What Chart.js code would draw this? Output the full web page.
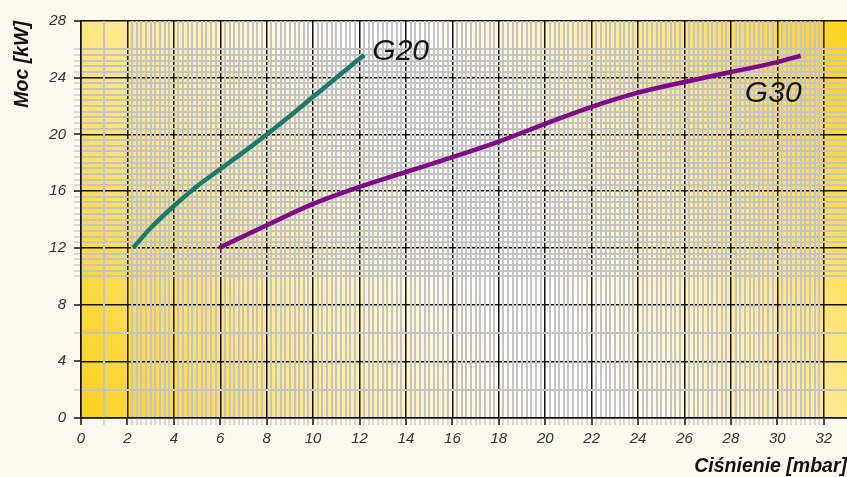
<!DOCTYPE html>
<html><head>
<meta charset="UTF-8">
<title>Moc / Ciśnienie</title>
<style>
  html, body { margin: 0; padding: 0; background: #fdf9ee; }
  #wrap { width: 847px; height: 477px; position: relative; }
</style>
<script src="https://cdn.jsdelivr.net/npm/chart.js"></script>
</head>
<body>
<div id="wrap"><canvas id="chart"></canvas></div>
<script>
// series (pressure in mbar, power in kW)
const g20X = [2.25, 3, 4, 5, 6, 7, 8, 9, 10, 11, 12.2];
const g20Y = [12, 13.4, 14.95, 16.35, 17.55, 18.75, 20, 21.3, 22.65, 24.0, 25.6];
const g30X = [5.95, 8, 10, 12, 14, 16, 18, 20, 22, 24, 26, 28, 30, 31];
const g30Y = [12, 13.6, 15.1, 16.3, 17.35, 18.4, 19.5, 20.75, 21.95, 22.95, 23.7, 24.4, 25.1, 25.55];

const seriesNames = ['G20', 'G30'];
const nameX = [12.55, 28.6];
const nameY = [25.85, 22.9];

const xMajor = [0, 2, 4, 6, 8, 10, 12, 14, 16, 18, 20, 22, 24, 26, 28, 30, 32];
const xLabels = ['0', '2', '4', '6', '8', '10', '12', '14', '16', '18', '20', '22', '24', '26', '28', '30', '32'];
const yMajor = [0, 4, 8, 12, 16, 20, 24, 28];
const yLabels = ['0', '4', '8', '12', '16', '20', '24', '28'];

// fine graph-paper lines
const xMinor = [1];
for (let i = 11; i < 160; i++) if (i % 10 !== 0) xMinor.push(i / 5);
const yMinor = [2, 6];
for (let i = 25; i <= 65; i++) if (i % 10 !== 0) yMinor.push(i * 2 / 5);

const BLACK = '#111111';
const GREY = '#c4c4c4';
const tickFont = { family: '"Liberation Sans", Arial, sans-serif', size: 15, style: 'italic' };
const titleFont = { family: '"Liberation Sans", Arial, sans-serif', size: 19.5, style: 'italic', weight: 'bold' };

function setTicks(list) {
  return scale => { scale.ticks = list.slice().sort((a, b) => a - b).map(v => ({ value: v })); };
}
function isIn(list, v) { return list.some(m => Math.abs(m - v) < 1e-6); }

const paperBg = {
  id: 'paperBg',
  beforeDraw(chart) {
    const { ctx, chartArea: a } = chart;
    ctx.save();
    ctx.fillStyle = '#fdf9ee';
    ctx.fillRect(0, 0, chart.width, chart.height);
    const g = ctx.createLinearGradient(a.left, a.bottom, a.right, a.top);
    g.addColorStop(0, '#fcd11c');
    g.addColorStop(0.48, '#ffffff');
    g.addColorStop(0.55, '#ffffff');
    g.addColorStop(1, '#fdd21e');
    ctx.fillStyle = g;
    ctx.fillRect(a.left, a.top, a.right - a.left, a.bottom - a.top);
    ctx.restore();
  }
};

const seriesNamesPlugin = {
  id: 'seriesNames',
  afterDatasetsDraw(chart) {
    const { ctx, scales: { x, y } } = chart;
    ctx.save();
    ctx.font = 'italic 30px "Liberation Sans", Arial, sans-serif';
    ctx.fillStyle = '#151515';
    ctx.textBaseline = 'middle';
    ctx.textAlign = 'left';
    seriesNames.forEach((t, i) => ctx.fillText(t, x.getPixelForValue(nameX[i]), y.getPixelForValue(nameY[i])));
    ctx.restore();
  }
};

new Chart(document.getElementById('chart'), {
  type: 'line',
  data: {
    datasets: [{
      label: 'G20',
      data: g20X.map((v, i) => ({ x: v, y: g20Y[i] })),
      borderColor: '#1b7b6b',
      borderWidth: 4.5,
      pointRadius: 0,
      cubicInterpolationMode: 'monotone'
    }, {
      label: 'G30',
      data: g30X.map((v, i) => ({ x: v, y: g30Y[i] })),
      borderColor: '#7f0a88',
      borderWidth: 4.5,
      pointRadius: 0,
      cubicInterpolationMode: 'monotone'
    }]
  },
  options: {
    responsive: true,
    maintainAspectRatio: false,
    animation: false,
    layout: { padding: { top: 21, right: 0, left: 0, bottom: 0 } },
    plugins: { legend: { display: false }, tooltip: { enabled: false } },
    scales: {
      x: {
        type: 'linear', position: 'bottom', min: 0, max: 33,
        afterBuildTicks: setTicks(xMajor.concat(xMinor)),
        afterFit: s => { s.height = 59; },
        ticks: {
          autoSkip: false, maxRotation: 0, minRotation: 0, padding: 5,
          color: '#333', font: tickFont,
          callback: v => isIn(xMajor, v) ? xLabels[xMajor.findIndex(m => Math.abs(m - v) < 1e-6)] : ''
        },
        grid: {
          z: -1, tickLength: 7,
          color: c => isIn(xMajor, c.tick.value) ? 'rgba(0,0,0,0)' : GREY,
          tickColor: c => isIn(xMajor, c.tick.value) ? BLACK : GREY,
          lineWidth: 2, tickWidth: c => isIn(xMajor, c.tick.value) ? 1.5 : 1.2
        },
        border: { display: true, color: BLACK, width: 1.5 },
        title: { display: true, text: 'Ciśnienie [mbar]', align: 'end', color: '#111', font: titleFont, padding: { top: 0, bottom: -1 } }
      },
      y: {
        type: 'linear', position: 'left', min: 0, max: 28,
        afterBuildTicks: setTicks(yMajor.concat(yMinor)),
        afterFit: s => { s.width = 81; },
        ticks: {
          autoSkip: false, padding: 8,
          color: '#333', font: tickFont,
          callback: v => isIn(yMajor, v) ? yLabels[yMajor.findIndex(m => Math.abs(m - v) < 1e-6)] : ''
        },
        grid: {
          z: -1, tickLength: 7,
          color: c => isIn(yMajor, c.tick.value) ? 'rgba(0,0,0,0)' : GREY,
          tickColor: c => isIn(yMajor, c.tick.value) ? BLACK : GREY,
          lineWidth: 2, tickWidth: c => isIn(yMajor, c.tick.value) ? 1.5 : 1.2
        },
        border: { display: true, color: BLACK, width: 1.5 },
        title: { display: true, text: 'Moc [kW]', align: 'end', color: '#111', font: titleFont, padding: { top: 11, bottom: 0 } }
      },
      xMajorGrid: {
        type: 'linear', axis: 'x', position: 'bottom', min: 0, max: 33,
        afterBuildTicks: setTicks(xMajor),
        ticks: { display: false },
        grid: { z: -2, color: BLACK, lineWidth: 1.5, drawTicks: false },
        border: { display: false }
      },
      yMajorGrid: {
        type: 'linear', axis: 'y', position: 'left', min: 0, max: 28,
        afterBuildTicks: setTicks(yMajor),
        ticks: { display: false },
        grid: { z: -2, color: BLACK, lineWidth: 1.5, drawTicks: false },
        border: { display: false }
      }
    }
  },
  plugins: [paperBg, seriesNamesPlugin]
});
</script>
</body></html>
